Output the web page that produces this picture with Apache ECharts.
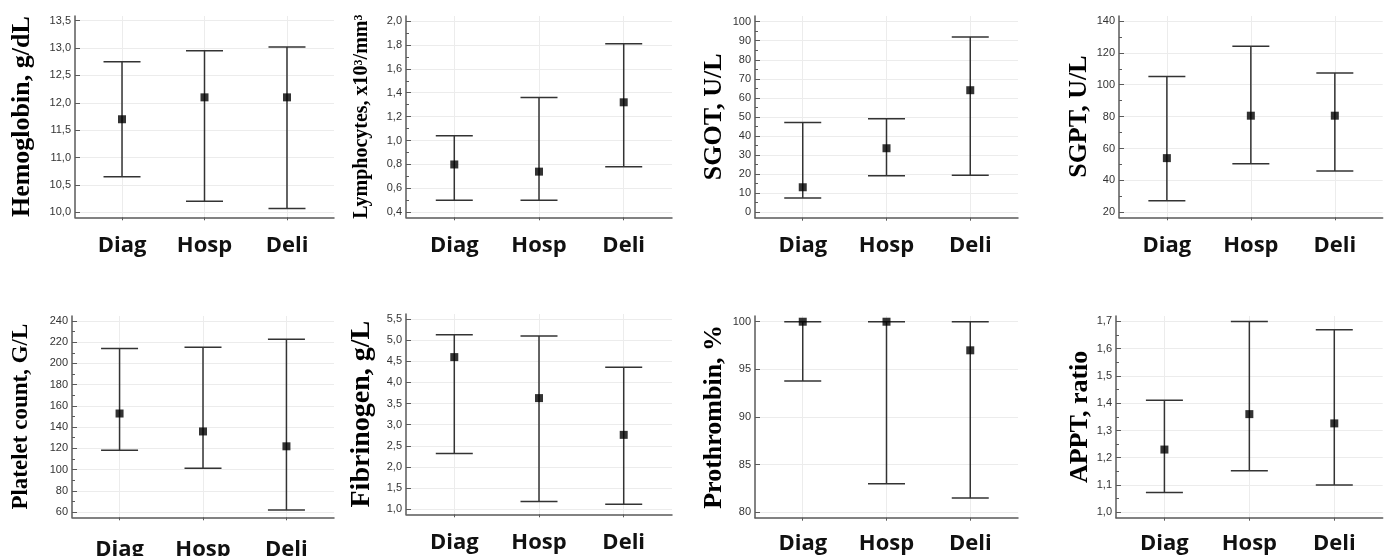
<!DOCTYPE html>
<html><head><meta charset="utf-8">
<script src="https://cdn.jsdelivr.net/npm/echarts@6/dist/echarts.min.js"></script>
<style>html,body{margin:0;padding:0;background:#fff}#c{width:1386px;height:556px}</style>
</head><body><div id="c"></div>
<script>
const categories = ['Diag', 'Hosp', 'Deli'];

const hemoglobinMedian = [11.7, 12.1, 12.1];
const hemoglobinLow = [10.65, 10.2, 10.07];
const hemoglobinHigh = [12.75, 12.95, 13.02];
const hemoglobinTicks = [10.0, 10.5, 11.0, 11.5, 12.0, 12.5, 13.0, 13.5];

const lymphocytesMedian = [0.8, 0.74, 1.32];
const lymphocytesLow = [0.5, 0.5, 0.78];
const lymphocytesHigh = [1.04, 1.36, 1.81];
const lymphocytesTicks = [0.4, 0.6, 0.8, 1.0, 1.2, 1.4, 1.6, 1.8, 2.0];
const lymphocytesMinorTicks = [0.5, 0.7, 0.9, 1.1, 1.3, 1.5, 1.7, 1.9];

const sgotMedian = [13, 33.5, 64];
const sgotLow = [7.4, 19, 19.3];
const sgotHigh = [47, 49, 92];
const sgotTicks = [0, 10, 20, 30, 40, 50, 60, 70, 80, 90, 100];
const sgotMinorTicks = [5, 15, 25, 35, 45, 55, 65, 75, 85, 95];

const sgptMedian = [54, 80.6, 80.6];
const sgptLow = [27.3, 50.4, 45.9];
const sgptHigh = [105.2, 124.2, 107.3];
const sgptTicks = [20, 40, 60, 80, 100, 120, 140];
const sgptMinorTicks = [30, 50, 70, 90, 110, 130];

const plateletMedian = [152.8, 135.9, 121.9];
const plateletLow = [118.1, 101.3, 61.9];
const plateletHigh = [214, 215.3, 222.8];
const plateletTicks = [60, 80, 100, 120, 140, 160, 180, 200, 220, 240];
const plateletMinorTicks = [70, 90, 110, 130, 150, 170, 190, 210, 230];

const fibrinogenMedian = [4.6, 3.63, 2.76];
const fibrinogenLow = [2.32, 1.18, 1.12];
const fibrinogenHigh = [5.13, 5.1, 4.36];
const fibrinogenTicks = [1.0, 1.5, 2.0, 2.5, 3.0, 3.5, 4.0, 4.5, 5.0, 5.5];

const prothrombinMedian = [100, 100, 97];
const prothrombinLow = [93.78, 83, 81.5];
const prothrombinHigh = [100, 100, 100];
const prothrombinTicks = [80, 85, 90, 95, 100];

const apptMedian = [1.23, 1.36, 1.326];
const apptLow = [1.072, 1.152, 1.1];
const apptHigh = [1.411, 1.7, 1.67];
const apptTicks = [1.0, 1.1, 1.2, 1.3, 1.4, 1.5, 1.6, 1.7];
const apptMinorTicks = [1.05, 1.15, 1.25, 1.35, 1.45, 1.55, 1.65];

const panels = [
  { name: 'Hemoglobin, g/dL', med: hemoglobinMedian, low: hemoglobinLow, high: hemoglobinHigh, ticks: hemoglobinTicks, minor: null, dec: 1,
    grid: { left: 75, top: 16, width: 259, height: 201.3 }, yMin: 9.909, yMax: 13.586, nameSize: 26, nameGap: 40, catMargin: 17 },
  { name: 'Lymphocytes, x10³/mm³', med: lymphocytesMedian, low: lymphocytesLow, high: lymphocytesHigh, ticks: lymphocytesTicks, minor: lymphocytesMinorTicks, dec: 1,
    grid: { left: 406, top: 16, width: 266, height: 201.3 }, yMin: 0.358, yMax: 2.042, nameSize: 20, nameGap: 34, catMargin: 17 },
  { name: 'SGOT, U/L', med: sgotMedian, low: sgotLow, high: sgotHigh, ticks: sgotTicks, minor: sgotMinorTicks, dec: 0,
    grid: { left: 755, top: 16, width: 263, height: 201.7 }, yMin: -3.0, yMax: 103.0, nameSize: 26, nameGap: 28, catMargin: 17 },
  { name: 'SGPT, U/L', med: sgptMedian, low: sgptLow, high: sgptHigh, ticks: sgptTicks, minor: sgptMinorTicks, dec: 0,
    grid: { left: 1119, top: 16, width: 263.7, height: 201.3 }, yMin: 16.9, yMax: 143.1, nameSize: 26, nameGap: 25, catMargin: 17 },
  { name: 'Platelet count, G/L', med: plateletMedian, low: plateletLow, high: plateletHigh, ticks: plateletTicks, minor: plateletMinorTicks, dec: 0,
    grid: { left: 72, top: 316, width: 262, height: 201.3 }, yMin: 55.0, yMax: 244.7, nameSize: 23, nameGap: 39, catMargin: 21 },
  { name: 'Fibrinogen, g/L', med: fibrinogenMedian, low: fibrinogenLow, high: fibrinogenHigh, ticks: fibrinogenTicks, minor: null, dec: 1,
    grid: { left: 406, top: 314, width: 266, height: 200.3 }, yMin: 0.88, yMax: 5.62, nameSize: 28, nameGap: 30, catMargin: 17 },
  { name: 'Prothrombin, %', med: prothrombinMedian, low: prothrombinLow, high: prothrombinHigh, ticks: prothrombinTicks, minor: null, dec: 0,
    grid: { left: 755, top: 316, width: 263, height: 201.7 }, yMin: 79.44, yMax: 100.6, nameSize: 26, nameGap: 28, catMargin: 15 },
  { name: 'APPT, ratio', med: apptMedian, low: apptLow, high: apptHigh, ticks: apptTicks, minor: apptMinorTicks, dec: 1,
    grid: { left: 1116, top: 316, width: 266.7, height: 201.7 }, yMin: 0.98, yMax: 1.72, nameSize: 26, nameGap: 22, catMargin: 15 }
];

const AXIS_COLOR = '#5a5a5a';
const GRID_COLOR = '#ececec';
const BAR_COLOR = '#333333';
const catPositions = categories.map((c, j) => j);

const grids = [], xAxes = [], yAxes = [], series = [];
panels.forEach((p, i) => {
  grids.push(Object.assign({ containLabel: false, outerBoundsMode: 'none' }, p.grid));
  xAxes.push({
    type: 'value', gridIndex: i, min: -0.57, max: 2.57,
    axisLine: { show: true, onZero: false, lineStyle: { color: AXIS_COLOR, width: 1.5 } },
    axisTick: { show: true, customValues: catPositions, length: 3, lineStyle: { color: AXIS_COLOR } },
    axisLabel: { show: true, customValues: catPositions, margin: p.catMargin,
      formatter: v => categories[Math.round(v)] || '',
      fontFamily: 'Open Sans', fontWeight: 'bold', fontSize: 22, color: '#111' },
    splitLine: { show: true, lineStyle: { color: GRID_COLOR, width: 1 } }
  });
  const mainY = yAxes.length;
  yAxes.push({
    type: 'value', gridIndex: i, min: p.yMin, max: p.yMax, position: 'left',
    name: p.name, nameLocation: 'middle', nameGap: p.nameGap,
    nameTextStyle: { fontFamily: 'Liberation Serif', fontWeight: 'bold', fontSize: p.nameSize, color: '#000' },
    axisLine: { show: true, onZero: false, lineStyle: { color: AXIS_COLOR, width: 1.5 } },
    axisTick: { show: true, inside: true, length: 5, customValues: p.ticks, lineStyle: { color: AXIS_COLOR } },
    axisLabel: { show: true, customValues: p.ticks, margin: 4,
      formatter: v => Number(v).toFixed(p.dec).replace('.', ','),
      fontFamily: 'Liberation Sans', fontSize: 11, color: '#333' },
    splitLine: { show: true, lineStyle: { color: GRID_COLOR, width: 1 } }
  });
  if (p.minor) {
    yAxes.push({
      type: 'value', gridIndex: i, min: p.yMin, max: p.yMax, position: 'left', offset: 0,
      axisLine: { show: false, onZero: false },
      axisTick: { show: true, inside: true, length: 3, customValues: p.minor, lineStyle: { color: AXIS_COLOR } },
      axisLabel: { show: false },
      splitLine: { show: false }
    });
  }
  series.push({
    type: 'custom', xAxisIndex: i, yAxisIndex: mainY, clip: false,
    encode: { x: 0, y: [1, 2] },
    data: categories.map((c, j) => [j, p.low[j], p.high[j]]),
    renderItem: (params, api) => {
      const x = api.value(0);
      const lo = api.coord([x, api.value(1)]);
      const hi = api.coord([x, api.value(2)]);
      const hw = 18.5;
      const style = { stroke: BAR_COLOR, lineWidth: 1.5 };
      return { type: 'group', children: [
        { type: 'line', shape: { x1: lo[0], y1: lo[1], x2: hi[0], y2: hi[1] }, style },
        { type: 'line', shape: { x1: lo[0] - hw, y1: lo[1], x2: lo[0] + hw, y2: lo[1] }, style },
        { type: 'line', shape: { x1: hi[0] - hw, y1: hi[1], x2: hi[0] + hw, y2: hi[1] }, style }
      ] };
    },
    z: 3
  });
  series.push({
    type: 'scatter', xAxisIndex: i, yAxisIndex: mainY, clip: false,
    symbol: 'rect', symbolSize: 8,
    itemStyle: { color: '#000' },
    data: p.med.map((v, j) => [j, v]),
    z: 4
  });
});

const chart = echarts.init(document.getElementById('c'), null, { renderer: 'canvas' });
chart.setOption({
  animation: false,
  backgroundColor: '#fff',
  grid: grids, xAxis: xAxes, yAxis: yAxes, series
});
</script></body></html>
